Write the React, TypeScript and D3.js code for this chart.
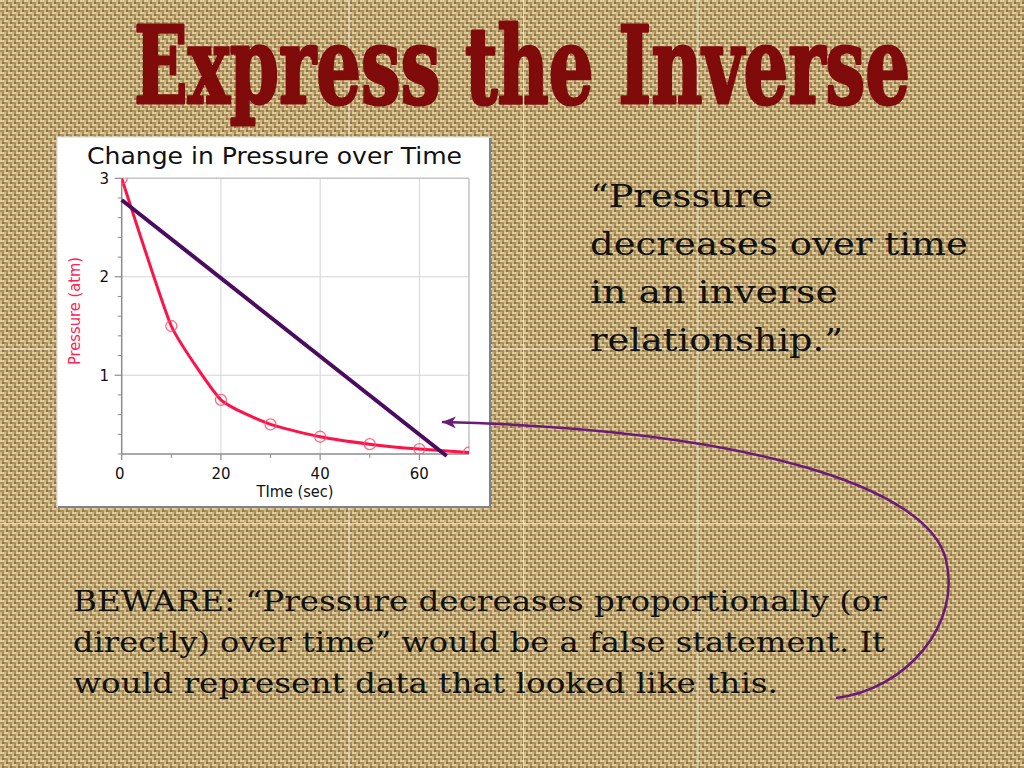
import React from "react";
import * as d3 from "d3";

// ---- data ----
const timeValues = [0, 10, 20, 30, 40, 50, 60, 70];
const pressureValues = [3.0, 1.5, 0.75, 0.5, 0.375, 0.3, 0.25, 0.215];
const linearTime = [0, 65.5];
const linearPressure = [2.78, 0.18];
const xTickValues = [0, 20, 40, 60];
const xMinorTicks = [10, 30, 50];
const yTickValues = [1, 2, 3];
const yMinorTicks = [0.2, 0.4, 0.6, 0.8, 1.2, 1.4, 1.6, 1.8, 2.2, 2.4, 2.6, 2.8];

const slideTitle = "Express the Inverse";
const chartTitle = "Change in Pressure over Time";
const xLabel = "TIme (sec)";
const yLabel = "Pressure (atm)";
const quoteLines = ["\u201CPressure", "decreases over time", "in an inverse", "relationship.\u201D"];
const quoteWidths = [183, 378, 248, 253];
const bewareLines = [
  "BEWARE: \u201CPressure decreases proportionally (or",
  "directly) over time\u201D would be a false statement. It",
  "would represent data that looked like this.",
];
const bewareWidths = [814, 812, 705];
const seamX = [349, 523.5, 698];
const seamY = [349, 523.5];

export default function App() {
  const W = 1024, H = 768;
  const plot = { left: 121.7, right: 469, top: 178.3, bottom: 454 };
  const x = d3.scaleLinear().domain([0, 70]).range([plot.left, plot.right]);
  const y = d3.scaleLinear().domain([0.2, 3]).range([plot.bottom, plot.top]);

  const pts = timeValues.map((t, i) => [t, pressureValues[i]] as [number, number]);
  const redLine = d3
    .line<[number, number]>()
    .x((d) => x(d[0]))
    .y((d) => y(d[1]))
    .curve(d3.curveCardinal.tension(0.55))(pts) as string;
  const linPts = linearTime.map((t, i) => [t, linearPressure[i]] as [number, number]);
  const purpleLine = d3
    .line<[number, number]>()
    .x((d) => x(d[0]))
    .y((d) => y(d[1]))(linPts) as string;

  const sans = "'DejaVu Sans', 'Open Sans', sans-serif";
  const serif = "'DejaVu Serif', 'Liberation Serif', serif";

  return (
    <svg
      width={W}
      height={H}
      viewBox={`0 0 ${W} ${H}`}
      style={{ position: "absolute", left: 0, top: 0, display: "block" }}
    >
      <defs>
        <pattern id="burlap" width="8" height="8" patternUnits="userSpaceOnUse">
          <rect width="8" height="8" fill="#a58a58" />
          <rect x="0" y="0" width="4" height="2" fill="#e6d7a8" />
          <rect x="4" y="4" width="4" height="2" fill="#e6d7a8" />
          <rect x="4" y="0" width="2" height="4" fill="#d3bd8b" />
          <rect x="0" y="4" width="2" height="4" fill="#d3bd8b" />
          <rect x="6" y="2" width="2" height="2" fill="#826839" />
          <rect x="2" y="6" width="2" height="2" fill="#826839" />
        </pattern>
        <clipPath id="plotClip">
          <rect x={plot.left} y={plot.top} width={plot.right - plot.left} height={plot.bottom - plot.top} />
        </clipPath>
        <marker
          id="arrowHead"
          markerUnits="userSpaceOnUse"
          markerWidth="16"
          markerHeight="14"
          refX="14"
          refY="6"
          orient="auto"
        >
          <path d="M0,0 L14,6 L0,12 L4,6 Z" fill="#6a1a78" />
        </marker>
      </defs>

      {/* background */}
      <rect width={W} height={H} fill="#bea571" />
      <rect width={W} height={H} fill="url(#burlap)" opacity={0.8} />
      {seamX.map((sx) => (
        <line key={"sx" + sx} x1={sx} x2={sx} y1={0} y2={H} stroke="#ffffff" strokeOpacity={0.65} strokeWidth={1} />
      ))}
      {seamY.map((sy) => (
        <line key={"sy" + sy} x1={0} x2={W} y1={sy} y2={sy} stroke="#ffffff" strokeOpacity={0.65} strokeWidth={1} />
      ))}

      {/* slide title */}
      <text
        x={134}
        y={103}
        fontFamily={serif}
        fontWeight="bold"
        fontSize={106}
        fill="#7f0b0b"
        stroke="#7f0b0b"
        strokeWidth={3}
        strokeLinejoin="round"
        textLength={776}
        lengthAdjust="spacingAndGlyphs"
      >
        {slideTitle}
      </text>

      {/* chart panel */}
      <rect x={57} y={137} width={433} height={370} fill="#ffffff" stroke="#d8d8dc" strokeWidth={1} />
      <line x1={490} x2={490} y1={138} y2={508} stroke="#7d838e" strokeWidth={2} />
      <line x1={58} x2={491} y1={507} y2={507} stroke="#7d838e" strokeWidth={2} />

      <text
        x={87}
        y={164}
        fontFamily={sans}
        fontSize={23}
        fill="#111"
        textLength={375}
        lengthAdjust="spacingAndGlyphs"
      >
        {chartTitle}
      </text>

      {/* grid */}
      {xTickValues.filter((t) => t > 0).map((t) => (
        <line key={"gx" + t} x1={x(t)} x2={x(t)} y1={plot.top} y2={plot.bottom} stroke="#d4d4d4" strokeWidth={1} />
      ))}
      {yTickValues.filter((v) => v < 3).map((v) => (
        <line key={"gy" + v} x1={plot.left} x2={plot.right} y1={y(v)} y2={y(v)} stroke="#d4d4d4" strokeWidth={1} />
      ))}
      {/* frame top/right */}
      <line x1={plot.left} x2={plot.right} y1={plot.top} y2={plot.top} stroke="#c4c4c4" strokeWidth={1.5} />
      <line x1={plot.right} x2={plot.right} y1={plot.top} y2={plot.bottom} stroke="#c4c4c4" strokeWidth={1.5} />

      {/* axes */}
      <line x1={plot.left} x2={plot.left} y1={plot.top} y2={plot.bottom} stroke="#8c8c8c" strokeWidth={1.5} />
      <line x1={plot.left} x2={plot.right} y1={plot.bottom} y2={plot.bottom} stroke="#8c8c8c" strokeWidth={1.5} />
      {yTickValues.map((v) => (
        <line key={"yt" + v} x1={plot.left - 7} x2={plot.left} y1={y(v)} y2={y(v)} stroke="#8c8c8c" strokeWidth={1.2} />
      ))}
      {yMinorTicks.map((v) => (
        <line key={"ym" + v} x1={plot.left - 4} x2={plot.left} y1={y(v)} y2={y(v)} stroke="#8c8c8c" strokeWidth={1} />
      ))}
      {xTickValues.map((t) => (
        <line key={"xt" + t} x1={x(t)} x2={x(t)} y1={plot.bottom} y2={plot.bottom + 6} stroke="#8c8c8c" strokeWidth={1.2} />
      ))}
      {xMinorTicks.map((t) => (
        <line key={"xm" + t} x1={x(t)} x2={x(t)} y1={plot.bottom} y2={plot.bottom + 4} stroke="#8c8c8c" strokeWidth={1} />
      ))}
      {yTickValues.map((v) => (
        <text key={"yl" + v} x={109} y={y(v)} dy="0.36em" textAnchor="end" fontFamily={sans} fontSize={15} fill="#111">
          {v}
        </text>
      ))}
      {xTickValues.map((t) => (
        <text key={"xl" + t} x={x(t) - (t === 0 ? 2 : 0)} y={479} textAnchor="middle" fontFamily={sans} fontSize={15} fill="#111">
          {t}
        </text>
      ))}
      <text x={295} y={497} textAnchor="middle" fontFamily={sans} fontSize={15} fill="#111" textLength={77} lengthAdjust="spacingAndGlyphs">
        {xLabel}
      </text>
      <text
        transform="translate(80,311) rotate(-90)"
        textAnchor="middle"
        fontFamily={sans}
        fontSize={15}
        fill="#ff2257"
        textLength={108}
        lengthAdjust="spacingAndGlyphs"
      >
        {yLabel}
      </text>

      {/* data */}
      <g clipPath="url(#plotClip)">
        <path d={redLine} fill="none" stroke="#ff1248" strokeWidth={3} strokeLinejoin="round" />
        {pts.map((d, i) => (
          <circle key={"pt" + i} cx={x(d[0])} cy={y(d[1])} r={5.5} fill="none" stroke="#ff4d70" strokeOpacity={0.85} strokeWidth={1.3} />
        ))}
      </g>
      <path d={purpleLine} fill="none" stroke="#4b0c5f" strokeWidth={4} strokeLinecap="butt" />

      {/* quote */}
      {quoteLines.map((s, i) => (
        <text
          key={"q" + i}
          x={590}
          y={207 + i * 48}
          fontFamily={serif}
          fontSize={31}
          fill="#111"
          textLength={quoteWidths[i]}
          lengthAdjust="spacingAndGlyphs"
        >
          {s}
        </text>
      ))}

      {/* beware */}
      {bewareLines.map((s, i) => (
        <text
          key={"b" + i}
          x={73}
          y={611 + i * 41}
          fontFamily={serif}
          fontSize={28}
          fill="#111"
          textLength={bewareWidths[i]}
          lengthAdjust="spacingAndGlyphs"
        >
          {s}
        </text>
      ))}

      {/* curved arrow */}
      <path
        d="M836,698 C905,690 962,625 946,560 C930,490 760,430 442,422"
        fill="none"
        stroke="#6a1a78"
        strokeWidth={2.5}
        markerEnd="url(#arrowHead)"
      />
    </svg>
  );
}
